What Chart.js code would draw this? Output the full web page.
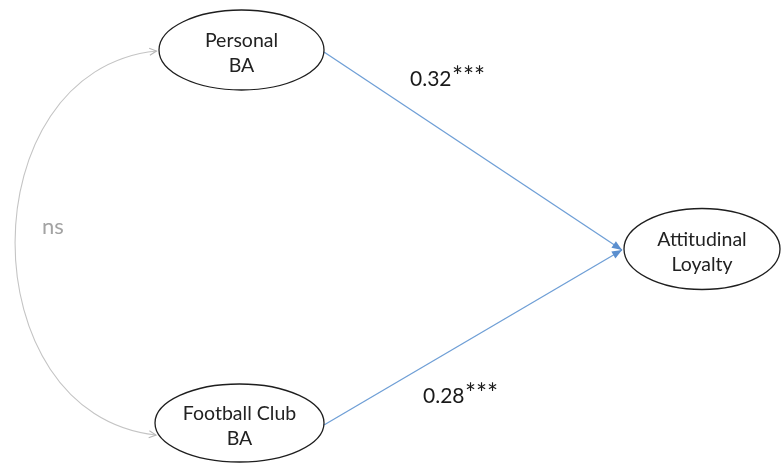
<!DOCTYPE html>
<html><head><meta charset="utf-8">
<script src="https://cdn.jsdelivr.net/npm/chart.js@4"></script>
<style>html,body{margin:0;padding:0;background:#fff;overflow:hidden}#wrap{width:781px;height:463px}</style>
</head><body><div id="wrap"><canvas id="c" width="781" height="463"></canvas></div>
<script>
// ---- data ----
const nodeLabels = [["Personal", "BA"], ["Football Club", "BA"], ["Attitudinal", "Loyalty"]];
const nodeX = [241.5, 239.5, 702];
const nodeY = [50, 423, 249];
const pathFrom = [0, 1];
const pathTo = [2, 2];
const pathCoefficients = ["0.32", "0.28"];
const pathSignificance = ["***", "***"];
const covarianceNodes = [0, 1];
const covarianceLabel = "ns";

// ---- geometry / style (not data) ----
const nodeRx = [82.5, 84.5, 78];
const nodeRy = [40, 39, 40.5];
const FONT = "Lato, 'Open Sans', sans-serif";
const BLUE = "#6f9fd6";
const GREY = "#c4c4c4";

const edgeDatasets = pathFrom.map((f, i) => {
  const t = pathTo[i];
  return {
    label: pathCoefficients[i] + pathSignificance[i],
    data: [
      { x: nodeX[f] + nodeRx[f], y: nodeY[f] + 2 },
      { x: nodeX[t] - nodeRx[t] - 2, y: nodeY[t] + 1 }
    ],
    showLine: true,
    borderColor: BLUE,
    borderWidth: 1.3,
    pointRadius: 0,
    fill: false,
    tension: 0
  };
});

function arrowHead(ctx, x, y, ang, len, half, filled, color) {
  ctx.save();
  ctx.translate(x, y);
  ctx.rotate(ang);
  ctx.beginPath();
  ctx.moveTo(-len, -half);
  ctx.lineTo(0, 0);
  ctx.lineTo(-len, half);
  if (filled) { ctx.closePath(); ctx.fillStyle = color; ctx.fill(); }
  else { ctx.strokeStyle = color; ctx.lineWidth = 1.1; ctx.stroke(); }
  ctx.restore();
}

const diagramPlugin = {
  id: 'diagram',
  beforeDatasetsDraw(chart) {
    const ctx = chart.ctx, xs = chart.scales.x, ys = chart.scales.y;
    const X = v => xs.getPixelForValue(v), Y = v => ys.getPixelForValue(v);
    const a = covarianceNodes[0], b = covarianceNodes[1];
    const p0 = { x: X(nodeX[a] - nodeRx[a] - 2.5), y: Y(nodeY[a] + 1) };
    const p3 = { x: X(nodeX[b] - nodeRx[b] + 1), y: Y(nodeY[b] + 12) };
    const p1 = { x: X(-32), y: Y(nodeY[a] + 20) };
    const p2 = { x: X(-32), y: Y(nodeY[b] - 8) };
    ctx.save();
    ctx.strokeStyle = GREY;
    ctx.lineWidth = 1.1;
    ctx.beginPath();
    ctx.moveTo(p0.x, p0.y);
    ctx.bezierCurveTo(p1.x, p1.y, p2.x, p2.y, p3.x, p3.y);
    ctx.stroke();
    arrowHead(ctx, p0.x, p0.y, Math.atan2(p0.y - p1.y, p0.x - p1.x), 7, 3.5, false, "#b8b8b8");
    arrowHead(ctx, p3.x, p3.y, Math.atan2(p3.y - p2.y, p3.x - p2.x), 7, 3.5, false, "#b8b8b8");
    ctx.fillStyle = "#a3a3a3";
    ctx.font = "22px " + FONT;
    ctx.textAlign = "center";
    ctx.textBaseline = "middle";
    ctx.fillText(covarianceLabel, X(53), Y(227));
    ctx.restore();
  },
  afterDatasetsDraw(chart) {
    const ctx = chart.ctx, xs = chart.scales.x, ys = chart.scales.y;
    const X = v => xs.getPixelForValue(v), Y = v => ys.getPixelForValue(v);
    ctx.save();
    chart.data.datasets.forEach((ds, i) => {
      const m = chart.getDatasetMeta(i).data;
      const s = m[0], e = m[m.length - 1];
      arrowHead(ctx, e.x, e.y, Math.atan2(e.y - s.y, e.x - s.x), 10, 4, true, "#5b8fcf");
    });
    nodeLabels.forEach((lines, i) => {
      const cx = X(nodeX[i]), cy = Y(nodeY[i]);
      const rx = Math.abs(X(nodeX[i] + nodeRx[i]) - cx);
      const ry = Math.abs(Y(nodeY[i] + nodeRy[i]) - cy);
      ctx.beginPath();
      ctx.ellipse(cx, cy, rx, ry, 0, 0, Math.PI * 2);
      ctx.fillStyle = "#fff";
      ctx.fill();
      ctx.strokeStyle = "#1e1e1e";
      ctx.lineWidth = 1.3;
      ctx.stroke();
      ctx.fillStyle = "#222";
      ctx.font = "19.5px " + FONT;
      ctx.textAlign = "center";
      ctx.textBaseline = "middle";
      ctx.fillText(lines[0], cx, cy - 9);
      ctx.fillText(lines[1], cx, cy + 16);
    });
    ctx.fillStyle = "#1a1a1a";
    ctx.textBaseline = "middle";
    const coefPos = [[410, 79.5], [423, 396.5]];
    pathCoefficients.forEach((txt, i) => {
      const x0 = X(coefPos[i][0]), y0 = Y(coefPos[i][1]);
      ctx.font = "21px " + FONT;
      ctx.textAlign = "left";
      ctx.fillText(txt, x0, y0);
      const w = ctx.measureText(txt).width;
      ctx.font = "26px " + FONT;
      ctx.textAlign = "center";
      const stars = pathSignificance[i].split("");
      stars.forEach((st, k) => ctx.fillText(st, x0 + w + 6 + k * 11, y0 - 2));
    });
    ctx.restore();
  }
};

new Chart(document.getElementById('c'), {
  type: 'scatter',
  data: { datasets: edgeDatasets },
  options: {
    responsive: false,
    animation: false,
    devicePixelRatio: 1,
    layout: { padding: 0 },
    plugins: { legend: { display: false }, tooltip: { enabled: false } },
    scales: {
      x: { type: 'linear', min: 0, max: 781, display: false },
      y: { type: 'linear', min: 0, max: 463, reverse: true, display: false }
    }
  },
  plugins: [diagramPlugin]
});
</script></body></html>
